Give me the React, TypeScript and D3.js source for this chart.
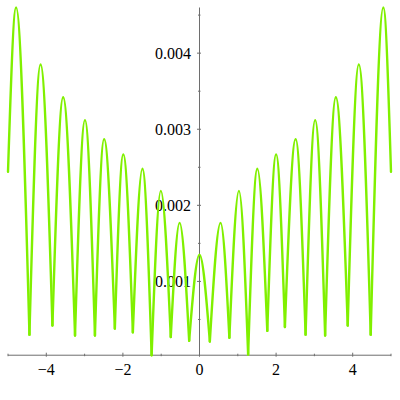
import * as d3 from "d3";

// values
const peakX = [-4.79, -4.15, -3.56, -2.99, -2.49, -1.99, -1.49, -1.01, -0.52, 0, 0.55, 1.03, 1.51, 2.0, 2.51, 3.02, 3.56, 4.16, 4.8];
const peakY = [0.0046, 0.00385, 0.00342, 0.00312, 0.00287, 0.00267, 0.00248, 0.00219, 0.00177, 0.00135, 0.00177, 0.00219, 0.00248, 0.00267, 0.00287, 0.00312, 0.00342, 0.00385, 0.0046];
const troughX = [-4.44, -3.84, -3.25, -2.73, -2.21, -1.74, -1.25, -0.75, -0.27, 0.27, 0.78, 1.27, 1.77, 2.23, 2.77, 3.28, 3.87, 4.47];
const troughY = [0.0003, 0.00042, 0.00029, 0.00029, 0.00038, 0.00033, 0.00003, 0.00027, 0.00022, 0.00021, 0.00026, 0.00004, 0.00035, 0.0004, 0.0003, 0.00029, 0.00042, 0.0003];
const endX = [-5, 5];
const endY = [0.00244, 0.00244];

const majorX = [-4, -2, 0, 2, 4];
const minorX = [-5, -3, -1, 1, 3, 5];
const majorY = [0.001, 0.002, 0.003, 0.004];
const minorY = [0.0005, 0.0015, 0.0025, 0.0035, 0.0045];

const W = 400;
const H = 400;
const lineColor = "#80f000";
const axisColor = "#6e6e6e";
const font = "\"Liberation Serif\", \"DejaVu Serif\", serif";

export default function App() {
    const x = d3.scaleLinear().domain([-5, 5]).range([8, 391]);
    const y = d3.scaleLinear().domain([0, 0.0046]).range([357.5, 7.5]);

    // each arch goes from one trough (or the end) over a peak to the next trough
    const arches = peakX.map((px, i) => {
        const left: [number, number] = i === 0 ? [endX[0], endY[0]] : [troughX[i - 1], troughY[i - 1]];
        const right: [number, number] = i === peakX.length - 1 ? [endX[1], endY[1]] : [troughX[i], troughY[i]];
        return [left, [px, peakY[i]] as [number, number], right];
    });

    const line = d3.line<[number, number]>()
        .x((d) => x(d[0]))
        .y((d) => y(d[1]))
        .curve(d3.curveMonotoneX);

    const allY = [...peakY, ...troughY, ...endY];
    const axisY = y(d3.min(allY) as number);
    const topY = y(d3.max(allY) as number);
    const x0 = x(0);
    const textStyle = { fontFamily: font, fontSize: "16px" };

    return (
        <svg width={W} height={H} style={{ position: "absolute", left: 0, top: 0, background: "#fff" }}>
            {/* axes */}
            <line x1={x(-5)} x2={x(5)} y1={axisY} y2={axisY} stroke={axisColor} strokeWidth={1} />
            <line x1={x0} x2={x0} y1={topY} y2={axisY} stroke={axisColor} strokeWidth={1} />

            {majorX.map((t) => (
                <g key={"mx" + t}>
                    <line x1={x(t)} x2={x(t)} y1={axisY - 2.5} y2={axisY + 1.5} stroke={axisColor} />
                    <text x={x(t)} y={375} textAnchor="middle" style={textStyle} fill="#000">
                        {t < 0 ? "\u2212" + Math.abs(t) : String(t)}
                    </text>
                </g>
            ))}
            {minorX.map((t) => (
                <line key={"nx" + t} x1={x(t)} x2={x(t)} y1={axisY - 1.5} y2={axisY + 1} stroke={axisColor} />
            ))}

            {majorY.map((t) => (
                <g key={"my" + t}>
                    <line x1={x0 - 2.5} x2={x0 + 1.5} y1={y(t)} y2={y(t)} stroke={axisColor} />
                    <text x={191} y={y(t) + 5.5} textAnchor="end" style={textStyle} fill="#000">
                        {d3.format(".3f")(t)}
                    </text>
                </g>
            ))}
            {minorY.map((t) => (
                <line key={"ny" + t} x1={x0 - 1.5} x2={x0 + 1} y1={y(t)} y2={y(t)} stroke={axisColor} />
            ))}

            {/* curve */}
            <g fill="none" stroke={lineColor} strokeWidth={2.4} strokeLinecap="round" strokeLinejoin="round">
                {arches.map((a, i) => (
                    <path key={i} d={line(a) ?? ""} />
                ))}
            </g>
        </svg>
    );
}
